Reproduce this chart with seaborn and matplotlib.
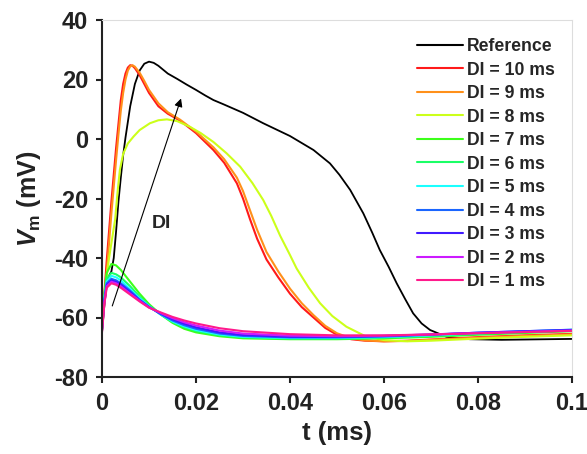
import matplotlib
matplotlib.use("Agg")
import matplotlib.pyplot as plt
import seaborn as sns
import numpy as np
import pandas as pd

# Reference AP
t_ref = [0, 0.0005, 0.001, 0.0015, 0.002, 0.0025, 0.003, 0.0035, 0.004, 0.0045, 0.005,
         0.006, 0.007, 0.008, 0.009, 0.010, 0.011, 0.012, 0.014, 0.016, 0.018, 0.020,
         0.022, 0.0237, 0.0258, 0.030, 0.0343, 0.040, 0.045, 0.0485, 0.0505, 0.0528,
         0.0556, 0.0575, 0.0591, 0.061, 0.0627, 0.0645, 0.0662, 0.068, 0.0698, 0.0733,
         0.0783, 0.085, 0.090, 0.100]
v_ref = [-65, -56, -49, -46, -44.5, -40, -31, -21, -13, -5.5, 0.5,
         11, 18.5, 23, 25.3, 26, 25.6, 24.6, 22, 20.2, 18.3, 16.5,
         14.6, 13.1, 11.7, 8.8, 5.3, 1, -3.7, -8.2, -12, -17.1,
         -25, -31.5, -37.3, -43, -48.5, -53.8, -58.6, -62, -64.2, -66.5,
         -67.3, -67.5, -67.4, -67.2]

# long DI (10, 9 ms)
t_long = [0, 0.0005, 0.001, 0.0015, 0.002, 0.0025, 0.003, 0.0035, 0.004, 0.0045, 0.005,
          0.0055, 0.006, 0.0065, 0.007, 0.008, 0.009, 0.010, 0.012, 0.014, 0.0166, 0.020,
          0.0237, 0.026, 0.0287, 0.030, 0.0315, 0.033, 0.035, 0.0375, 0.040, 0.0425,
          0.045, 0.0475, 0.050, 0.053, 0.056, 0.060, 0.065, 0.070, 0.080, 0.090, 0.100]
v_di10 = [-62, -52, -41, -31, -21, -12, -3, 5, 13, 18.5, 22,
          24, 24.8, 24.6, 23.8, 21.5, 18.5, 15.5, 11, 8.5, 6.2, 2,
          -3.7, -8, -14.9, -20, -27, -33.5, -40.5, -46.5, -52, -56.5,
          -60, -63.5, -65.8, -67.3, -67.8, -68, -67.8, -67.4, -66.6, -66, -65.5]
v_di9 = [-63, -55, -45, -35, -25, -16, -7, 1.5, 9.5, 15.5, 20,
         23, 24.4, 24.8, 24.3, 22.3, 19.5, 16.5, 12, 9, 6.5, 2.5,
         -2.8, -6.8, -13, -17.5, -24, -30.5, -38, -44.5, -50.3, -55.2,
         -59.2, -62.8, -65.3, -67, -67.7, -68, -67.9, -67.5, -66.8, -66.2, -65.7]

# DI = 8 ms
t_di8 = [0, 0.0005, 0.001, 0.0015, 0.002, 0.0028, 0.0033, 0.0038, 0.0045, 0.0055, 0.0067,
         0.008, 0.0102, 0.012, 0.0138, 0.016, 0.0187, 0.021, 0.0237, 0.0265, 0.0294,
         0.032, 0.0343, 0.036, 0.0379, 0.040, 0.0414, 0.044, 0.0464, 0.049, 0.052,
         0.0563, 0.060, 0.065, 0.070, 0.080, 0.090, 0.100]
v_di8 = [-64, -55, -46, -40, -35, -27, -18, -10.4, -5, -1.5, 0.8,
         3, 5.3, 6.3, 6.6, 6, 4.1, 2, -1, -4.8, -9.3,
         -14.8, -20.5, -25.8, -32.5, -39, -43.5, -50, -55.2, -59.5, -63.1,
         -66.5, -67.6, -68, -67.8, -67.1, -66.5, -66]

# short DI (7 ... 1 ms), common time grid
t_short = [0, 0.0005, 0.001, 0.002, 0.003, 0.004, 0.006, 0.008, 0.010, 0.0125, 0.015,
           0.0175, 0.020, 0.025, 0.030, 0.040, 0.050, 0.060, 0.070, 0.080, 0.090, 0.100]
v_di7 = [-63, -52, -45, -42, -42.5, -44, -48, -52, -55.5, -59, -61.8,
         -63.8, -65, -66.3, -67, -67.3, -67.3, -67, -66.5, -65.8, -65.2, -64.6]
v_di6 = [-63, -53, -47, -45, -45.5, -46.5, -49.5, -53, -56, -59, -61.5,
         -63.3, -64.5, -66, -66.7, -67.1, -67.1, -66.8, -66.2, -65.5, -64.9, -64.3]
v_di5 = [-63, -53.5, -48, -46, -46.5, -47.5, -50.5, -53.5, -56.2, -59, -61.3,
         -63, -64.2, -65.7, -66.5, -66.9, -66.9, -66.6, -66, -65.3, -64.7, -64.1]
v_di4 = [-64, -54, -48.5, -47, -47.5, -48.5, -51, -54, -56.4, -58.9, -61,
         -62.6, -63.8, -65.4, -66.2, -66.7, -66.7, -66.4, -65.8, -65.1, -64.6, -64.1]
v_di3 = [-64, -54.5, -49, -47.5, -48, -49, -51.5, -54.2, -56.5, -58.7, -60.6,
         -62.1, -63.3, -65, -65.9, -66.5, -66.5, -66.2, -65.7, -65.1, -64.6, -64.2]
v_di2 = [-64.5, -55, -49.5, -48, -48.5, -49.5, -52, -54.4, -56.6, -58.5, -60.2,
         -61.6, -62.7, -64.4, -65.4, -66.1, -66.3, -66.1, -65.7, -65.2, -64.8, -64.4]
v_di1 = [-65, -55.5, -50, -48.5, -49, -50, -52.3, -54.6, -56.7, -58.3, -59.8,
         -61, -62, -63.6, -64.6, -65.6, -66, -66, -65.7, -65.3, -64.9, -64.5]

labels = ['Reference', 'DI = 10 ms', 'DI = 9 ms', 'DI = 8 ms', 'DI = 7 ms', 'DI = 6 ms',
          'DI = 5 ms', 'DI = 4 ms', 'DI = 3 ms', 'DI = 2 ms', 'DI = 1 ms']
colors = ['#000000', '#ff1a1a', '#ff901a', '#ccff1a', '#3cff1a', '#1aff66',
          '#1affff', '#1a66ff', '#401aff', '#cc1aff', '#ff1a8c']
xticks = [0, 0.02, 0.04, 0.06, 0.08, 0.1]
xticklabels = ['0', '0.02', '0.04', '0.06', '0.08', '0.1']
yticks = [-80, -60, -40, -20, 0, 20, 40]

series = [(t_ref, v_ref), (t_long, v_di10), (t_long, v_di9), (t_di8, v_di8),
          (t_short, v_di7), (t_short, v_di6), (t_short, v_di5), (t_short, v_di4),
          (t_short, v_di3), (t_short, v_di2), (t_short, v_di1)]
frames = [pd.DataFrame({'t': tt, 'V': vv, 'curve': lab}) for lab, (tt, vv) in zip(labels, series)]
df = pd.concat(frames, ignore_index=True)

sns.set_style('ticks')
plt.rcParams['font.family'] = ['Liberation Sans', 'DejaVu Sans']
plt.rcParams['font.weight'] = 'bold'
plt.rcParams['axes.unicode_minus'] = False
plt.rcParams['mathtext.fontset'] = 'custom'
plt.rcParams['mathtext.it'] = 'Liberation Sans:italic:bold'
plt.rcParams['mathtext.rm'] = 'Liberation Sans:bold'

fig = plt.figure(figsize=(5.87, 4.54), dpi=100)
ax = fig.add_axes([102/587, 1-377/454, 470/587, 357/454])

sns.lineplot(data=df, x='t', y='V', hue='curve', hue_order=labels,
             palette=dict(zip(labels, colors)), estimator=None, sort=False,
             linewidth=1.5, ax=ax)
for line, lab in zip(ax.lines, labels):
    if lab == 'Reference':
        line.set_linewidth(1.3)

ax.annotate('', xy=(0.017, 14.5), xytext=(0.002, -57),
            arrowprops=dict(arrowstyle='-|>', color='black', lw=0.8,
                            mutation_scale=12))
ax.text(0.0127, -28.3, 'DI', fontsize=14, fontweight='bold', ha='center', va='center')

ax.set_xlim(0, 0.1)
ax.set_ylim(-80, 40)
ax.set_xticks(xticks)
ax.set_xticklabels(xticklabels)
ax.set_yticks(yticks)
ax.tick_params(axis='both', labelsize=17, width=1.5, length=4, direction='out',
               color='#222222', labelcolor='#222222')
ax.tick_params(axis='x', pad=7)
ax.tick_params(axis='y', pad=6)
for lab in ax.get_xticklabels() + ax.get_yticklabels():
    lab.set_fontweight('bold')
ax.set_xlabel('t (ms)', fontsize=18.5, fontweight='bold', labelpad=4, color='#222222')
ax.set_ylabel(r'$V_{\rm m}$ (mV)', fontsize=18, fontweight='bold', labelpad=8, color='#222222')

for s in ['left', 'bottom']:
    ax.spines[s].set_linewidth(1.5)
    ax.spines[s].set_color('#222222')
for s in ['top', 'right']:
    ax.spines[s].set_linewidth(0.8)
    ax.spines[s].set_color('#dddddd')

handles, labs = ax.get_legend_handles_labels()
leg = ax.legend(handles, labs, loc='upper left', bbox_to_anchor=(417/587, 1-38/454),
                bbox_transform=fig.transFigure, frameon=False, borderpad=0,
                borderaxespad=0, handlelength=2.6, handletextpad=0.25,
                labelspacing=0.37, prop={'weight': 'bold', 'size': 12.7})
for h in leg.get_lines():
    h.set_linewidth(1.5)

fig.savefig('out.png', dpi=100)
